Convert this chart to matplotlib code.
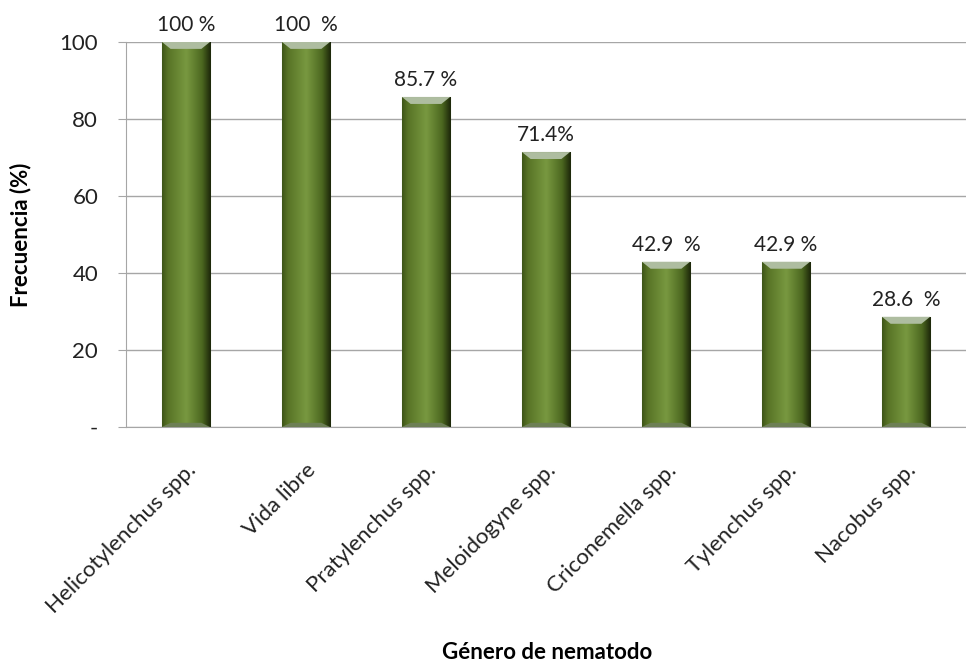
import numpy as np
import matplotlib.pyplot as plt
from matplotlib.colors import LinearSegmentedColormap
from matplotlib.patches import Polygon

generos = ['Helicotylenchus spp.', 'Vida libre', 'Pratylenchus spp.', 'Meloidogyne spp.',
           'Criconemella spp.', 'Tylenchus spp.', 'Nacobus spp.']
frecuencia = [100, 100, 85.7, 71.4, 42.9, 42.9, 28.6]
etiquetas = ['100 %', '100  %', '85.7 %', '71.4%', '42.9  %', '42.9 %', '28.6  %']
yticks = [0, 20, 40, 60, 80, 100]
yticklabels = ['-', '20', '40', '60', '80', '100']

plt.rcParams['font.family'] = ['Lato', 'DejaVu Sans']

fig = plt.figure(figsize=(9.66, 6.66), dpi=100)
ax = fig.add_axes([0.1304, 0.3589, 0.8696, 0.5781])

ancho = 0.4
x = np.arange(len(generos))
barras = ax.bar(x, frecuencia, width=ancho, color='#5a7a2a', edgecolor='#8a9a7a',
                linewidth=0.8, zorder=3)

# degradado horizontal tipo "bisel" de Excel
cmap = LinearSegmentedColormap.from_list(
    'verde', [(0.0, '#3e5518'), (0.12, '#587426'), (0.5, '#789840'),
              (0.82, '#4c6820'), (1.0, '#1c260a')])
grad = np.linspace(0, 1, 200).reshape(1, -1)
bisel = 1.8
for xi, v, b, et in zip(x, frecuencia, barras, etiquetas):
    im = ax.imshow(grad, cmap=cmap, extent=(xi - ancho / 2, xi + ancho / 2, 0, v),
                   aspect='auto', zorder=3.5, interpolation='bicubic')
    im.set_clip_path(b)
    dx = ancho * 0.18
    top = Polygon([(xi - ancho / 2, v), (xi + ancho / 2, v),
                   (xi + ancho / 2 - dx, v - bisel), (xi - ancho / 2 + dx, v - bisel)],
                  closed=True, facecolor='#aebda0', edgecolor='none', zorder=4)
    ax.add_patch(top)
    bottom = Polygon([(xi - ancho / 2, 0), (xi + ancho / 2, 0),
                      (xi + ancho / 2 - dx, bisel * 0.6), (xi - ancho / 2 + dx, bisel * 0.6)],
                     closed=True, facecolor='#6d7f55', edgecolor='none', zorder=4)
    ax.add_patch(bottom)
    ax.text(xi, v + 1.8, et, ha='center', va='bottom',
            fontsize=15, color='#222222', zorder=5)

ax.set_xlim(-0.5, len(generos) - 0.5)
ax.set_ylim(0, 100)
ax.set_yticks(yticks)
ax.set_yticklabels(yticklabels, fontsize=16, color='#222222')
ax.yaxis.grid(True, color='#a6a6a6', linewidth=1.0, zorder=0)
ax.set_axisbelow(True)

ax.set_xticks(x)
ax.set_xticklabels(generos, rotation=45, ha='right', rotation_mode='anchor',
                   fontsize=16, color='#222222')
ax.tick_params(axis='x', length=0, pad=24)
ax.tick_params(axis='y', length=6, color='#a6a6a6', pad=14)

for s in ['top', 'right']:
    ax.spines[s].set_visible(False)
ax.spines['left'].set_color('#a6a6a6')
ax.spines['bottom'].set_color('#a6a6a6')

ax.set_ylabel('Frecuencia (%)', fontsize=16, fontweight='bold', labelpad=20)
fig.text(0.566, 0.004, 'Género de nematodo', ha='center', va='bottom',
         fontsize=16, fontweight='bold')

fig.savefig('out.png', dpi=100)
